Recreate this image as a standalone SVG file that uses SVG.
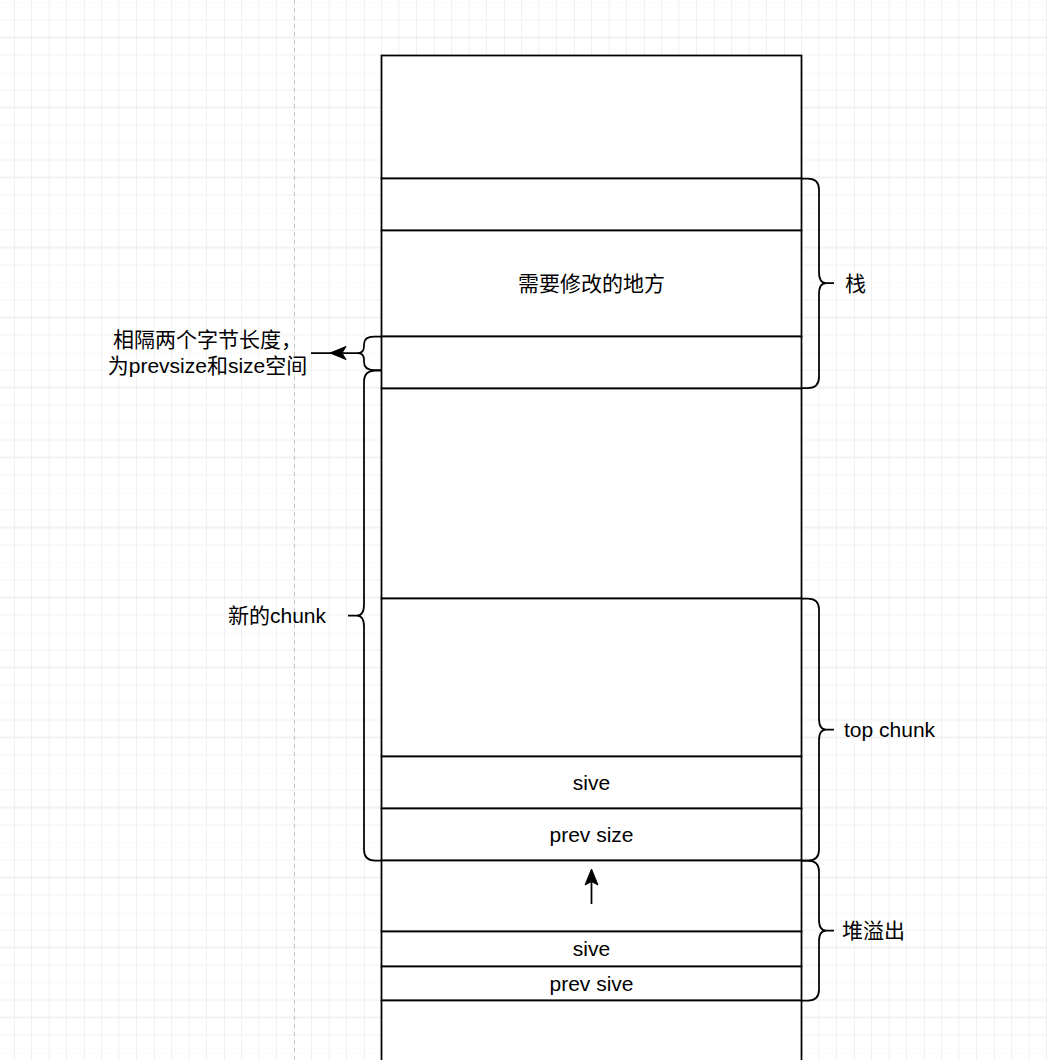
<svg xmlns="http://www.w3.org/2000/svg" width="1047" height="1060" viewBox="0 0 1047 1060">
  <defs>
    <pattern id="grid" x="14" y="2.5" width="70" height="70" patternUnits="userSpaceOnUse">
      <path d="M17.5 0V70M35 0V70M52.5 0V70M0 17.5H70M0 52.5H70M0 0H70" stroke="#f1f1f1" stroke-width="1" fill="none"/>
      <path d="M0 0V70M0 35H70" stroke="#e4e4e4" stroke-width="1" fill="none"/>
    </pattern>
    <style>
      .cell { fill: #ffffff; stroke: #000000; stroke-width: 1.75; }
      .brace { fill: none; stroke: #000000; stroke-width: 1.75; stroke-linejoin: round; }
      .line { fill: none; stroke: #000000; stroke-width: 1.75; }
      .head { fill: #000000; stroke: #000000; stroke-width: 1; }
      text { font-family: "Liberation Sans", "Noto Sans CJK SC", sans-serif; font-size: 21px; fill: #000000; }
      .mid { text-anchor: middle; }
    </style>
  </defs>

  <!-- background grid and page break -->
  <rect width="1047" height="1060" fill="#ffffff"/>
  <rect width="1047" height="1060" fill="url(#grid)"/>
  <line x1="294.5" y1="0" x2="294.5" y2="1060" stroke="#c4c4c4" stroke-width="1" stroke-dasharray="4 4"/>

  <!-- memory cells -->
  <g id="cell-top"><rect class="cell" x="381.5" y="55.5" width="420" height="123"/></g>
  <g id="cell-stack-a"><rect class="cell" x="381.5" y="178.5" width="420" height="52"/></g>
  <g id="cell-target">
    <rect class="cell" x="381.5" y="230.5" width="420" height="106"/>
    <text class="mid" x="591.5" y="290.5">需要修改的地方</text>
  </g>
  <g id="cell-gap"><rect class="cell" x="381.5" y="336.5" width="420" height="52"/></g>
  <g id="cell-middle"><rect class="cell" x="381.5" y="388.5" width="420" height="210"/></g>
  <g id="cell-topchunk"><rect class="cell" x="381.5" y="598.5" width="420" height="158"/></g>
  <g id="cell-size">
    <rect class="cell" x="381.5" y="756.5" width="420" height="52"/>
    <text class="mid" x="591.5" y="789.5">sive</text>
  </g>
  <g id="cell-prevsize">
    <rect class="cell" x="381.5" y="808.5" width="420" height="52"/>
    <text class="mid" x="591.5" y="841.5">prev size</text>
  </g>
  <g id="cell-overflow"><rect class="cell" x="381.5" y="860.5" width="420" height="71"/></g>
  <g id="cell-size2">
    <rect class="cell" x="381.5" y="931.5" width="420" height="35"/>
    <text class="mid" x="591.5" y="955.5">sive</text>
  </g>
  <g id="cell-prevsize2">
    <rect class="cell" x="381.5" y="966.5" width="420" height="34"/>
    <text class="mid" x="591.5" y="991">prev sive</text>
  </g>
  <g id="cell-bottom"><rect class="cell" x="381.5" y="1000.5" width="420" height="80"/></g>

  <!-- braces with labels -->
  <g id="brace-stack">
    <path class="brace" d="M801.5 178.5H808Q819 178.5 819 189.5V272Q819 283 826 283H834M826 283Q819 283 819 294V377Q819 388 808 388H801.5"/>
    <text x="845" y="290.5">栈</text>
  </g>
  <g id="brace-topchunk">
    <path class="brace" d="M801.5 598.5H808Q819 598.5 819 609.5V718.5Q819 729.5 826 729.5H834M826 729.5Q819 729.5 819 740.5V849.5Q819 860.5 808 860.5H801.5"/>
    <text x="844" y="736.5">top chunk</text>
  </g>
  <g id="brace-overflow">
    <path class="brace" d="M801.5 860.5H808Q819 860.5 819 871.5V919.5Q819 930.5 826 930.5H834M826 930.5Q819 930.5 819 941.5V989.5Q819 1000.5 808 1000.5H801.5"/>
    <text x="842" y="938">堆溢出</text>
  </g>
  <g id="brace-newchunk">
    <path class="brace" d="M381.5 370.5H375Q364 370.5 364 381.5V604.5Q364 615.5 357 615.5H348M357 615.5Q364 615.5 364 626.5V849.5Q364 860.5 375 860.5H381.5"/>
    <text x="228" y="623">新的chunk</text>
  </g>
  <g id="brace-gap">
    <path class="brace" d="M381.5 336.5H374Q364 336.5 364 344V346Q364 353 358 353M358 353Q364 353 364 360V362Q364 370 374 370H381.5"/>
  </g>
  <g id="note-gap">
    <text class="mid" x="207.5" y="347">相隔两个字节长度，</text>
    <text class="mid" x="207.5" y="373">为prevsize和size空间</text>
  </g>

  <!-- connectors -->
  <g id="connectors">
    <path class="line" d="M311 353H359"/>
    <path class="head" d="M330 353L346 346.5L342 353L346 359.5Z"/>
    <path class="line" d="M591.5 904V882"/>
    <path class="head" d="M591.5 869L598 885L591.5 881.5L585 885Z"/>
  </g>
</svg>
